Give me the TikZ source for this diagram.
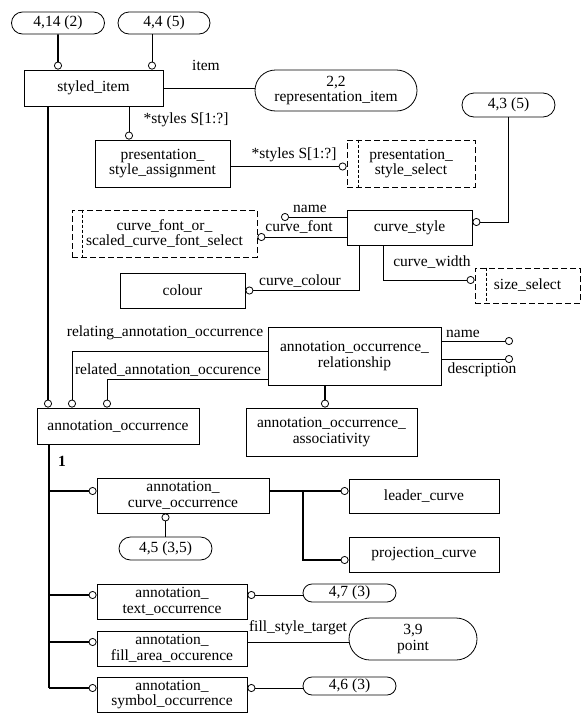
\documentclass[tikz,border=0pt]{standalone}
\usepackage{fontspec}
\setmainfont{Liberation Serif}
\usetikzlibrary{arrows.meta,shapes.misc}
\newcommand{\dfont}{\fontsize{15.5}{15.5}\selectfont}
\tikzset{-o/.style={-{Circle[open,length=8pt,width=8pt,line width=.8pt]}}}
\tikzset{o-/.style={{Circle[open,length=8pt,width=8pt,line width=.8pt]}-}}
\tikzset{ent/.style={draw, line width=.8pt, align=center, inner sep=0pt, font=\dfont}}
\tikzset{sel/.style={ent, dash pattern=on 6pt off 3pt}}
\tikzset{ref/.style={ent, rounded rectangle}}
\tikzset{lbl/.style={inner sep=0pt, font=\dfont}}
\tikzset{thk/.style={line width=1.6pt}}

\begin{document}
\begin{tikzpicture}[x=1pt, y=-1pt, line width=.8pt]
\useasboundingbox (0,0) rectangle (588,718);

\node[ref, minimum width=93pt, minimum height=22pt] (n414) at (58,23) {4,14 (2)};
\node[ref, minimum width=92pt, minimum height=22pt] (n44) at (164,23) {4,4 (5)};
\node[ent, minimum width=139pt, minimum height=36pt] (sitem) at (93.5,88) {styled\_item};
\node[ref, minimum width=162pt, minimum height=41pt] (ritem) at (336,90.5) {2,2\\representation\_item};
\node[ent, minimum width=135pt, minimum height=47pt] (psa) at (162.5,163.5) {presentation\_\\style\_assignment};
\node[sel, minimum width=128pt, minimum height=47pt] (pss) at (411,163.5) {presentation\_\\style\_select};
\node[ref, minimum width=93pt, minimum height=24pt] (n43) at (508.5,105) {4,3 (5)};
\node[ent, minimum width=125pt, minimum height=35pt] (cstyle) at (409.5,227.5) {curve\_style};
\node[sel, minimum width=185pt, minimum height=47pt] (cfont) at (164.5,233.5) {curve\_font\_or\_\\scaled\_curve\_font\_select};
\node[ent, minimum width=125pt, minimum height=35pt] (colour) at (182.5,290.5) {colour};
\node[sel, minimum width=105pt, minimum height=35pt] (sizesel) at (527.5,285.5) {size\_select};
\node[ent, minimum width=173pt, minimum height=58pt] (aorel) at (354.5,356) {annotation\_occurrence\_\\relationship};
\node[ent, minimum width=171pt, minimum height=48pt] (aoassoc) at (331.5,432) {annotation\_occurrence\_\\associativity};
\node[ent, minimum width=162pt, minimum height=36pt] (aocc) at (118,426) {annotation\_occurrence};
\node[ent, minimum width=172pt, minimum height=35pt] (acurve) at (183,495.5) {annotation\_\\curve\_occurrence};
\node[ref, minimum width=93pt, minimum height=23pt] (n45) at (165.5,548.5) {4,5 (3,5)};
\node[ent, minimum width=150pt, minimum height=34pt] (leader) at (424,496) {leader\_curve};
\node[ent, minimum width=150pt, minimum height=35pt] (proj) at (424,554.5) {projection\_curve};
\node[ent, minimum width=150pt, minimum height=35pt] (atext) at (172,601.5) {annotation\_\\text\_occurrence};
\node[ref, minimum width=93pt, minimum height=18pt] (n47) at (349.5,593) {4,7 (3)};
\node[ent, minimum width=150pt, minimum height=35pt] (afill) at (172,648.5) {annotation\_\\fill\_area\_occurence};
\node[ref, minimum width=128pt, minimum height=42pt] (n39) at (413,639) {3,9\\point};
\node[ent, minimum width=150pt, minimum height=35pt] (asym) at (172,694.5) {annotation\_\\symbol\_occurrence};
\node[ref, minimum width=93pt, minimum height=18pt] (n46) at (349.5,686) {4,6 (3)};

\draw[dash pattern=on 3pt off 2pt] ([xshift=12pt]pss.north west) -- ([xshift=12pt]pss.south west);
\draw[dash pattern=on 3pt off 2pt] ([xshift=11pt]cfont.north west) -- ([xshift=11pt]cfont.south west);
\draw[dash pattern=on 3pt off 2pt] ([xshift=12pt]sizesel.north west) -- ([xshift=12pt]sizesel.south west);

\coordinate (cname) at (281,217);
\coordinate (rname) at (513,341);
\coordinate (rdesc) at (513,359);
\coordinate (trunk) at (49,688);
\coordinate (fork) at (303,491);

\draw[thk,-o] (n414) -- (n414 |- sitem.north);
\draw[-o] ([xshift=-12pt]n44.south) -- ([xshift=-12pt]n44.south |- sitem.north);
\draw (sitem.east) -- (sitem.east -| ritem.west);
\draw[-o] ([xshift=35.5pt]sitem.south) -- ([xshift=35.5pt]sitem.south |- psa.north);
\draw[-o] ([yshift=-3pt]psa.east) -- ([yshift=-3pt]psa.east -| pss.west);
\draw[-o] (n43.south) |- ([yshift=5.5pt]cstyle.east);
\draw[-o] (cname -| cstyle.west) -- (cname);
\draw[-o] ([yshift=-9.5pt]cstyle.west) -- ([yshift=-9.5pt]cstyle.west -| cfont.east);
\draw[-o] ([xshift=-50.5pt]cstyle.south) |- (colour.east);
\draw[-o] ([xshift=-26.5pt]cstyle.south) |- ([yshift=5.5pt]sizesel.west);
\draw[-o] (rname -| aorel.east) -- (rname);
\draw[-o] (rdesc -| aorel.east) -- (rdesc);
\draw[-o] ([yshift=5pt]aorel.west) -| ([xshift=-46pt]aocc.north);
\draw[-o] ([yshift=-23pt]aorel.west) -| ([xshift=-11pt]aocc.north);
\draw[thk,-o] ([xshift=-45.5pt]sitem.south) -- ([xshift=-45.5pt]sitem.south |- aocc.north);
\draw[thk,-o] ([xshift=-29.5pt]aorel.south) -- ([xshift=-29.5pt]aorel.south |- aoassoc.north);

\draw[thk] ([xshift=-69pt]aocc.south) -- (trunk);
\draw[thk,-o] ([yshift=4.5pt]acurve.west -| trunk) -- ([yshift=4.5pt]acurve.west);
\draw[thk,-o] ([yshift=6.5pt]atext.west -| trunk) -- ([yshift=6.5pt]atext.west);
\draw[thk,-o] ([yshift=6.5pt]afill.west -| trunk) -- ([yshift=6.5pt]afill.west);
\draw[thk,-o] (trunk) -- ([yshift=6.5pt]asym.west);
\draw[thk] ([yshift=4.5pt]acurve.east) -- (fork);
\draw[thk,-o] (fork) -- (fork -| leader.west);
\draw[thk,-o] (fork) |- ([yshift=-5.5pt]proj.west);
\draw[-o] (n45.north) -- (n45.north |- acurve.south);
\draw[o-] ([yshift=6.5pt]atext.east) -- ([yshift=6.5pt]atext.east -| n47.west);
\draw ([yshift=6.5pt]afill.east) -- ([yshift=6.5pt]afill.east -| n39.west);
\draw[o-] ([yshift=6.5pt]asym.east) -- ([yshift=6.5pt]asym.east -| n46.west);

\node[lbl] (litem) at (206,65) {item};
\node[lbl] (lsty1) at (186,120) {*styles S[1:?]};
\node[lbl] (lsty2) at (294,155) {*styles S[1:?]};
\node[lbl] (lcname) at (310,209) {name};
\node[lbl] (lcfont) at (299,227) {curve\_font};
\node[lbl] (lccol) at (300,281) {curve\_colour};
\node[lbl] (lcwid) at (432,262) {curve\_width};
\node[lbl] (lrelg) at (165,333) {relating\_annotation\_occurrence};
\node[lbl] (lreld) at (168,370) {related\_annotation\_occurence};
\node[lbl] (lrname) at (463,334) {name};
\node[lbl] (lrdesc) at (482,370) {description};
\node[lbl, font=\dfont\bfseries] (lone) at (62,461) {1};
\node[lbl] (lfill) at (298,628) {fill\_style\_target};
\end{tikzpicture}
\end{document}
